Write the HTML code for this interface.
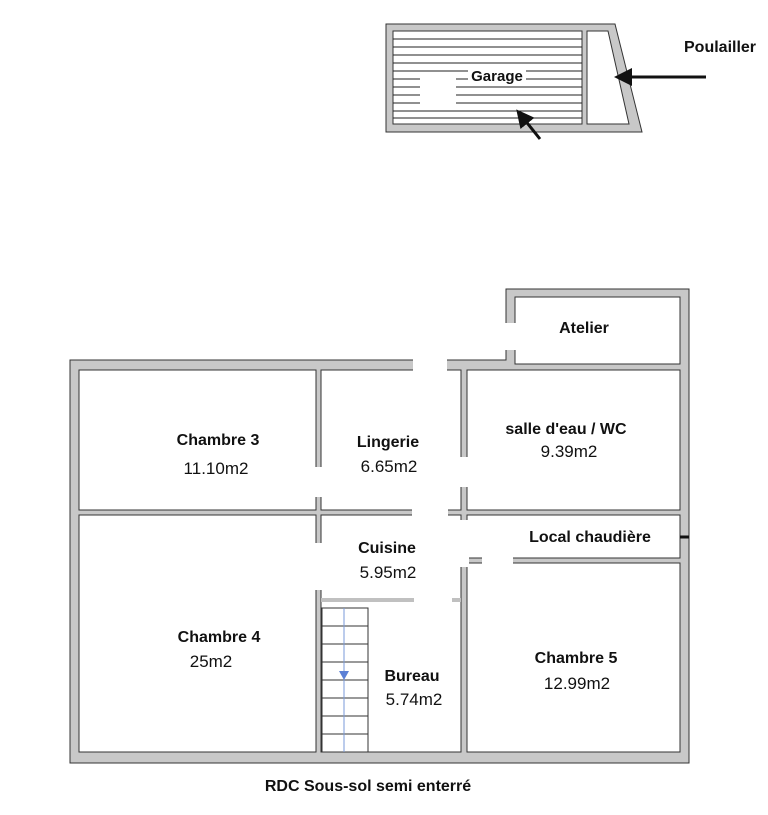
<!DOCTYPE html>
<html><head><meta charset="utf-8"><style>
body{margin:0;background:#fff;}
svg{display:block;font-family:"Liberation Sans",sans-serif;}
.b{font-weight:bold;font-size:16px;fill:#111;}
.n{font-size:17px;fill:#111;}
</style></head><body>
<svg width="768" height="815" viewBox="0 0 768 815">
<defs><marker id="ah" markerWidth="6" markerHeight="6" refX="4" refY="3" orient="auto" markerUnits="strokeWidth"><path d="M0,0 L6,3 L0,6 z" fill="#111"/></marker></defs>
<polygon points="386,24 615,24 642,132 386,132" fill="#c8c8c8" stroke="#333" stroke-width="1"/>
<rect x="393" y="31" width="189" height="93" fill="#fff" stroke="#333"/>
<g stroke="#222" stroke-width="1">
<line x1="393" y1="39" x2="582" y2="39"/><line x1="393" y1="47" x2="582" y2="47"/><line x1="393" y1="55" x2="582" y2="55"/><line x1="393" y1="63" x2="582" y2="63"/><line x1="393" y1="71" x2="582" y2="71"/><line x1="393" y1="79" x2="582" y2="79"/><line x1="393" y1="87" x2="582" y2="87"/><line x1="393" y1="95" x2="582" y2="95"/><line x1="393" y1="103" x2="582" y2="103"/><line x1="393" y1="111" x2="582" y2="111"/><line x1="393" y1="118" x2="582" y2="118"/>
</g>
<rect x="420" y="72" width="36" height="38" fill="#fff"/>
<rect x="468" y="67" width="58" height="16" fill="#fff"/>
<polygon points="587,31 608,31 629,124 587,124" fill="#fff" stroke="#333"/>
<text x="497" y="81" class="b" text-anchor="middle" style="font-size:15px">Garage</text>
<text x="684" y="52" class="b">Poulailler</text>
<line x1="706" y1="77" x2="620" y2="77" stroke="#111" stroke-width="3" marker-end="url(#ah)"/>
<line x1="540" y1="139" x2="520" y2="114" stroke="#111" stroke-width="3" marker-end="url(#ah)"/>
<path d="M70,360 L506,360 L506,289 L689,289 L689,763 L70,763 Z" fill="#c8c8c8" stroke="#333"/>
<g fill="#fff" stroke="#333">
<rect x="515" y="297" width="165" height="67"/>
<rect x="79" y="370" width="237" height="140"/>
<rect x="321" y="370" width="140" height="140"/>
<rect x="467" y="370" width="213" height="140"/>
<rect x="79" y="515" width="237" height="237"/>
<rect x="321" y="515" width="140" height="237"/>
<rect x="467" y="515" width="213" height="43"/>
<rect x="467" y="563" width="213" height="189"/>
</g>
<g fill="#fff">
<rect x="413" y="358" width="34" height="14"/>
<rect x="504" y="323" width="13" height="27"/>
<rect x="314" y="467" width="9" height="30"/>
<rect x="314" y="543" width="9" height="47"/>
<rect x="459" y="457" width="10" height="30"/>
<rect x="459" y="520" width="10" height="47"/>
<rect x="412" y="508" width="36" height="9"/>
<rect x="482" y="556" width="31" height="9"/>
</g>
<line x1="321" y1="600" x2="414" y2="600" stroke="#c0c0c0" stroke-width="4"/>
<line x1="452" y1="600" x2="461" y2="600" stroke="#c0c0c0" stroke-width="4"/>
<line x1="680" y1="537" x2="689" y2="537" stroke="#111" stroke-width="3"/>
<rect x="322" y="608" width="46" height="144" fill="#fff" stroke="#333"/>
<g stroke="#333">
<line x1="322" y1="626" x2="368" y2="626"/><line x1="322" y1="644" x2="368" y2="644"/><line x1="322" y1="662" x2="368" y2="662"/><line x1="322" y1="680" x2="368" y2="680"/><line x1="322" y1="698" x2="368" y2="698"/><line x1="322" y1="716" x2="368" y2="716"/><line x1="322" y1="734" x2="368" y2="734"/>
</g>
<line x1="344" y1="608" x2="344" y2="752" stroke="#7a9ad8" stroke-width="1"/>
<polygon points="339,671 349,671 344,680" fill="#5b80d6"/>
<text x="218" y="445" class="b" text-anchor="middle">Chambre 3</text>
<text x="216" y="474" class="n" text-anchor="middle">11.10m2</text>
<text x="388" y="447" class="b" text-anchor="middle">Lingerie</text>
<text x="389" y="472" class="n" text-anchor="middle">6.65m2</text>
<text x="566" y="434" class="b" text-anchor="middle">salle d'eau / WC</text>
<text x="569" y="457" class="n" text-anchor="middle">9.39m2</text>
<text x="584" y="333" class="b" text-anchor="middle">Atelier</text>
<text x="590" y="542" class="b" text-anchor="middle">Local chaudière</text>
<text x="387" y="553" class="b" text-anchor="middle">Cuisine</text>
<text x="388" y="578" class="n" text-anchor="middle">5.95m2</text>
<text x="219" y="642" class="b" text-anchor="middle">Chambre 4</text>
<text x="211" y="667" class="n" text-anchor="middle">25m2</text>
<text x="412" y="681" class="b" text-anchor="middle">Bureau</text>
<text x="414" y="705" class="n" text-anchor="middle">5.74m2</text>
<text x="576" y="663" class="b" text-anchor="middle">Chambre 5</text>
<text x="577" y="689" class="n" text-anchor="middle">12.99m2</text>
<text x="368" y="791" class="b" text-anchor="middle">RDC Sous-sol semi enterré</text>
</svg>
</body></html>
